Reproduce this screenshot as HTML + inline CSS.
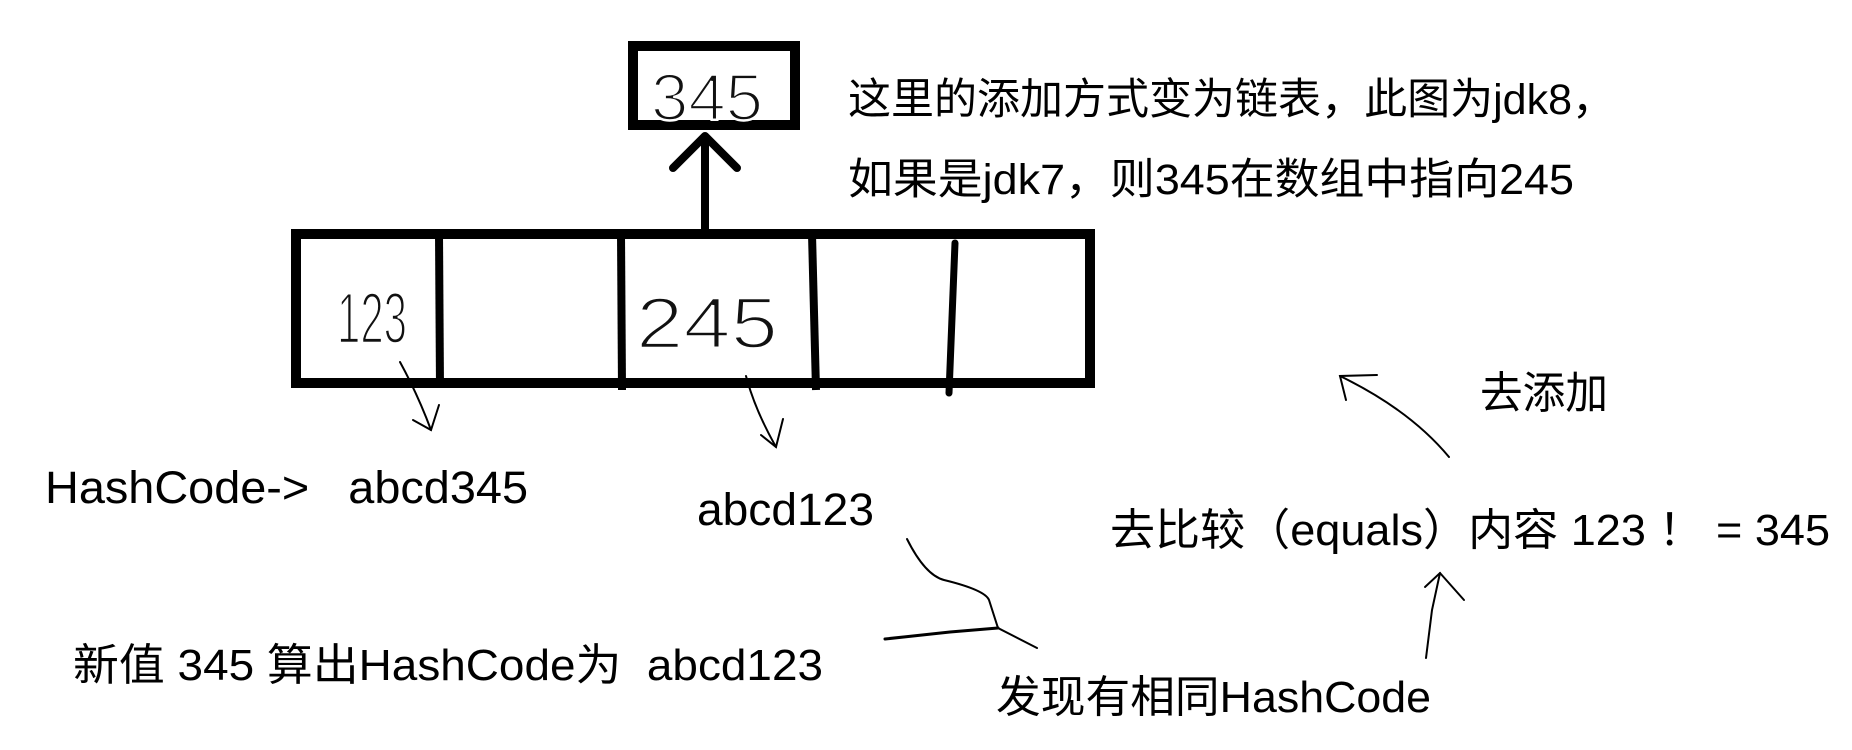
<!DOCTYPE html>
<html><head><meta charset="utf-8"><style>
html,body{margin:0;padding:0;background:#fff;width:1852px;height:750px;overflow:hidden}
svg{display:block}
text{font-family:"Liberation Sans","Noto Sans CJK SC",sans-serif;fill:#000}
.hd{fill:#111;stroke:#fff;stroke-width:2.5px}
</style></head><body>
<svg width="1852" height="750" viewBox="0 0 1852 750" xmlns="http://www.w3.org/2000/svg">
<rect width="1852" height="750" fill="#fff"/>
<!-- small box -->
<rect x="633" y="46" width="162" height="79" fill="none" stroke="#000" stroke-width="10"/>
<text class="hd" x="651" y="120" font-size="66" textLength="112" lengthAdjust="spacingAndGlyphs">345</text>
<!-- arrow up -->
<line x1="705" y1="232" x2="705" y2="136" stroke="#000" stroke-width="8"/>
<polyline points="673,168 705,136 737,168" fill="none" stroke="#000" stroke-width="8" stroke-linecap="round" stroke-linejoin="round"/>
<!-- big box -->
<rect x="296" y="234" width="794" height="149" fill="none" stroke="#000" stroke-width="10"/>
<line x1="439" y1="234" x2="440" y2="388" stroke="#000" stroke-width="8"/>
<line x1="621" y1="234" x2="622" y2="390" stroke="#000" stroke-width="8"/>
<line x1="812" y1="234" x2="816" y2="390" stroke="#000" stroke-width="8"/>
<line x1="955" y1="243" x2="949" y2="393" stroke="#000" stroke-width="7" stroke-linecap="round"/>
<text class="hd" x="337" y="343" font-size="72" textLength="70" lengthAdjust="spacingAndGlyphs">123</text>
<text class="hd" x="636" y="348" font-size="72" textLength="142" lengthAdjust="spacingAndGlyphs">245</text>
<!-- small arrows below cells -->
<g fill="none" stroke="#000" stroke-width="2" stroke-linecap="round">
<path d="M400,362 Q418,395 431,430"/>
<path d="M413,420 L431,430 L439,405"/>
<path d="M746,376 Q755,410 776,447"/>
<path d="M761,435 L776,447 L783,419"/>
<path d="M907,539 Q925,575 944,580 Q985,590 989,600 L998,628 L1037,648"/>
<path d="M885,639 L950,632 L998,628" stroke-width="3"/>
<path d="M1426,658 L1432,610 L1440,573"/>
<path d="M1425,587 L1440,573 L1464,600"/>
<path d="M1449,457 Q1410,410 1340,376"/>
<path d="M1377,375 L1340,376 L1346,400"/>
</g>
<!-- texts -->
<text x="848" y="114" font-size="43" textLength="767" lengthAdjust="spacingAndGlyphs">这里的添加方式变为链表，此图为jdk8，</text>
<text x="848" y="194" font-size="43" textLength="726" lengthAdjust="spacingAndGlyphs">如果是jdk7，则345在数组中指向245</text>
<text x="45" y="503" font-size="45" textLength="483" lengthAdjust="spacingAndGlyphs" xml:space="preserve">HashCode->   abcd345</text>
<text x="697" y="525" font-size="45" textLength="177" lengthAdjust="spacingAndGlyphs">abcd123</text>
<text x="1110" y="545" font-size="44" textLength="720" lengthAdjust="spacingAndGlyphs" xml:space="preserve">去比较（equals）内容 123 ！ = 345</text>
<text x="1480" y="408" font-size="44" textLength="128" lengthAdjust="spacingAndGlyphs">去添加</text>
<text x="73" y="680" font-size="44" textLength="750" lengthAdjust="spacingAndGlyphs" xml:space="preserve">新值 345 算出HashCode为  abcd123</text>
<text x="996" y="712" font-size="44" textLength="435" lengthAdjust="spacingAndGlyphs">发现有相同HashCode</text>
</svg>
</body></html>
